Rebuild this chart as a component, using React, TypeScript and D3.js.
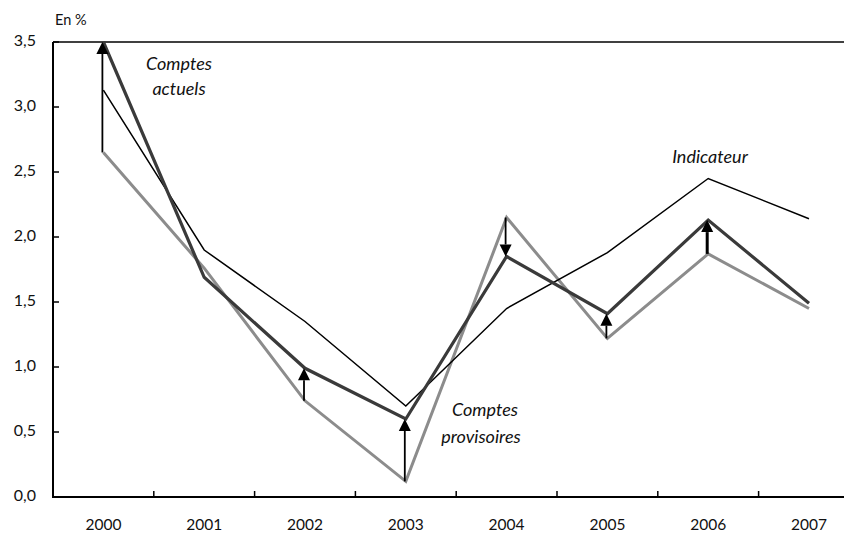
import React from "react";
import * as d3 from "d3";

const years = ["2000", "2001", "2002", "2003", "2004", "2005", "2006", "2007"];
const comptesActuels = [3.5, 1.69, 0.99, 0.6, 1.85, 1.41, 2.13, 1.49];
const comptesProvisoires = [2.65, 1.76, 0.74, 0.12, 2.15, 1.22, 1.87, 1.45];
const indicateur = [3.13, 1.9, 1.35, 0.7, 1.45, 1.88, 2.45, 2.14];
const yTicks = [0, 0.5, 1, 1.5, 2, 2.5, 3, 3.5];
const arrowYears = ["2000", "2002", "2003", "2004", "2005", "2006"];

const W = 844;
const H = 535;

export default function App() {
  const x0 = 53;
  const step = 100.8;
  const x = d3.scaleBand<string>().domain(years).range([x0, x0 + step * years.length]).padding(0);
  const cx = (y: string) => (x(y) as number) + x.bandwidth() / 2;
  const y = d3.scaleLinear().domain([0, 3.5]).range([497, 42]);
  const line = d3
    .line<number>()
    .x((_, i) => cx(years[i]))
    .y((d) => y(d));

  const font = "Lato, 'Open Sans', sans-serif";

  return (
    <svg width={W} height={H} style={{ position: "absolute", left: 0, top: 0, background: "#fff" }}>
      <rect width={W} height={H} fill="#fff" />
      {/* top border */}
      <line x1={x0} x2={W} y1={y(3.5)} y2={y(3.5)} stroke="#000" strokeWidth={1.5} />
      {/* y axis */}
      <line x1={x0} x2={x0} y1={y(3.5)} y2={y(0)} stroke="#000" strokeWidth={2} />
      {yTicks.map((t) => (
        <g key={t}>
          <line x1={x0} x2={x0 + 6} y1={y(t)} y2={y(t)} stroke="#000" strokeWidth={1.5} />
          <text
            x={36}
            y={y(t)}
            textAnchor="end"
            dominantBaseline="middle"
            fontFamily={font}
            fontSize={16}
            fill="#111"
          >
            {d3.format(".1f")(t).replace(".", ",")}
          </text>
        </g>
      ))}
      {/* x axis */}
      <line x1={x0 - 1} x2={W} y1={y(0)} y2={y(0)} stroke="#000" strokeWidth={2} />
      {years.slice(1).map((yr) => (
        <line
          key={yr}
          x1={x(yr) as number}
          x2={x(yr) as number}
          y1={y(0)}
          y2={y(0) - 6}
          stroke="#000"
          strokeWidth={1.5}
        />
      ))}
      {years.map((yr) => (
        <text
          key={yr}
          x={cx(yr)}
          y={y(0) + 33}
          textAnchor="middle"
          fontFamily={font}
          fontSize={15.5}
          fill="#111"
        >
          {yr}
        </text>
      ))}
      <text x={55} y={25} fontFamily={font} fontSize={14.5} fill="#111">
        En %
      </text>

      {/* series */}
      <path d={line(comptesProvisoires) || ""} fill="none" stroke="#8c8c8c" strokeWidth={3} strokeLinejoin="miter" />
      <path d={line(indicateur) || ""} fill="none" stroke="#000" strokeWidth={1.5} />
      <path d={line(comptesActuels) || ""} fill="none" stroke="#3a3a3a" strokeWidth={3.2} />

      {/* arrows */}
      {arrowYears.map((yr) => {
        const i = years.indexOf(yr);
        const from = y(comptesProvisoires[i]);
        const to = y(comptesActuels[i]);
        const dir = to < from ? -1 : 1;
        const head = 12;
        const hw = 6;
        const xx = cx(yr) - 1;
        const sw = yr === "2006" ? 3 : 1.8;
        return (
          <g key={yr}>
            <line x1={xx} x2={xx} y1={from} y2={to - dir * head} stroke="#000" strokeWidth={sw} />
            <path
              d={`M${xx},${to} L${xx - hw},${to - dir * head} L${xx + hw},${to - dir * head} Z`}
              fill="#000"
            />
          </g>
        );
      })}

      {/* annotations */}
      <g fontFamily={font} fontStyle="italic" fontSize={18} fill="#111" textAnchor="middle">
        <text x={179} y={70}>Comptes</text>
        <text x={179} y={95}>actuels</text>
        <text x={710} y={163}>Indicateur</text>
        <text x={485} y={416}>Comptes</text>
        <text x={481} y={443}>provisoires</text>
      </g>
    </svg>
  );
}
